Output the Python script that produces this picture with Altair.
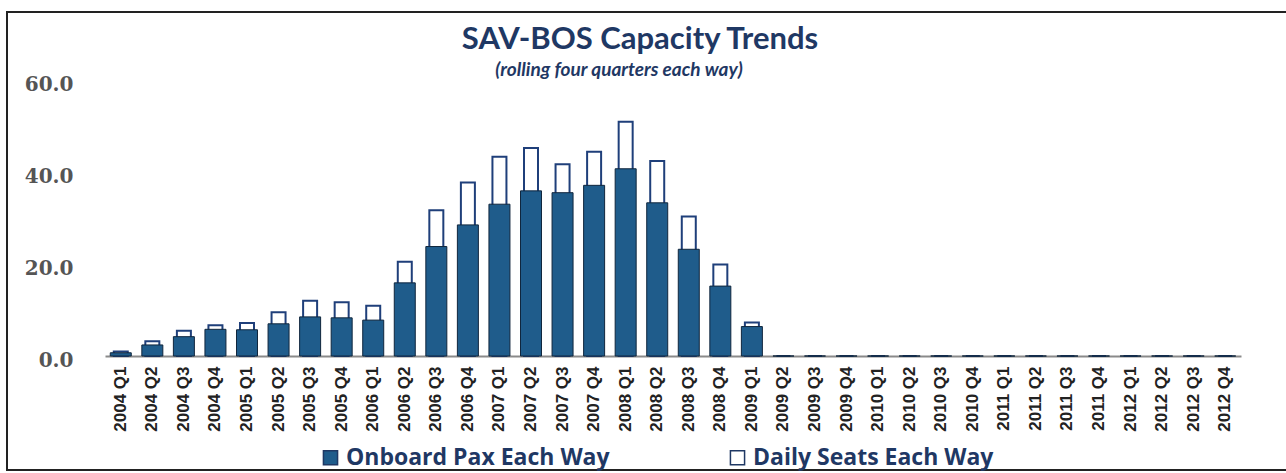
import altair as alt
import pandas as pd

quarters = [f"{y} Q{q}" for y in range(2004, 2013) for q in range(1, 5)]

pax = [0.7, 2.4, 4.2, 5.8, 5.7, 7.0, 8.5, 8.3, 7.8, 15.9, 23.8, 28.5,
       33.0, 35.9, 35.5, 37.1, 40.7, 33.3, 23.2, 15.2, 6.4,
       0, 0, 0, 0, 0, 0, 0, 0, 0, 0, 0, 0, 0, 0, 0]
seats = [1.0, 3.2, 5.5, 6.7, 7.2, 9.5, 12.0, 11.7, 10.9, 20.5, 31.7, 37.7,
         43.3, 45.2, 41.7, 44.4, 50.9, 42.4, 30.3, 19.9, 7.3,
         0, 0, 0, 0, 0, 0, 0, 0, 0, 0, 0, 0, 0, 0, 0]

PAX = "Onboard Pax Each Way"
SEATS = "Daily Seats Each Way"
TITLE = "SAV-BOS Capacity Trends"
SUBTITLE = "(rolling four quarters each way)"

df = pd.DataFrame({
    "quarter": quarters * 2,
    "value": pax + seats,
    "series": [PAX] * len(quarters) + [SEATS] * len(quarters),
})

NAVY = "#1F3864"
BLUE = "#1F5C8B"

x_enc = alt.X("quarter:N", sort=quarters, title=None,
              scale=alt.Scale(paddingInner=0, paddingOuter=0),
              axis=alt.Axis(labelAngle=-90, ticks=False, domainColor="#8a8a8a",
                            domainWidth=2, labelPadding=10,
                            labelFont="Liberation Sans", labelFontWeight="bold",
                            labelFontSize=17, labelColor="#222222"))
y_enc = alt.Y("value:Q", title=None,
              scale=alt.Scale(domain=[0, 60], nice=False),
              axis=alt.Axis(values=[0, 20, 40, 60], format=".1f", grid=False,
                            domain=False, ticks=False, labelPadding=32,
                            labelOffset=4,
                            labelFont="DejaVu Serif", labelFontWeight="bold",
                            labelFontSize=20, labelColor="#555555"))
fill_enc = alt.Fill("series:N",
                    scale=alt.Scale(domain=[PAX, SEATS], range=[BLUE, "#FFFFFF"]),
                    legend=alt.Legend(title=None, orient="none", legendX=214,
                                      legendY=366, direction="horizontal",
                                      symbolType="square", symbolSize=200,
                                      symbolStrokeColor=NAVY, symbolStrokeWidth=1.5,
                                      labelFont="Open Sans", labelFontWeight="bold",
                                      labelFontSize=23, labelColor=NAVY,
                                      labelLimit=400, labelOffset=4,
                                      columnPadding=116))

base = alt.Chart(df)

seat_bars = base.transform_filter(alt.datum.series == SEATS).mark_bar(
    size=14, stroke="#1F3F7A", strokeWidth=2
).encode(x=x_enc, y=y_enc, fill=fill_enc)

pax_bars = base.transform_filter(alt.datum.series == PAX).mark_bar(
    size=21, stroke="#10263d", strokeWidth=1
).encode(x=x_enc, y=y_enc, fill=fill_enc)

one = pd.DataFrame({"a": [0]})

frame = alt.Chart(one).mark_rect(
    fill="transparent", stroke="#222222", strokeWidth=2
).encode(x=alt.value(-98), x2=alt.value(1185), y=alt.value(-68), y2=alt.value(390))

title_txt = alt.Chart(one).mark_text(
    text=TITLE, font="Lato", fontSize=31, fontWeight="bold", color=NAVY,
    align="center", baseline="middle"
).encode(x=alt.value(535), y=alt.value(-40))

subtitle_txt = alt.Chart(one).mark_text(
    text=SUBTITLE, font="Lato", fontSize=19, fontWeight="bold", fontStyle="italic",
    color=NAVY, align="center", baseline="middle"
).encode(x=alt.value(514), y=alt.value(-10))

chart = alt.layer(seat_bars, pax_bars, frame, title_txt, subtitle_txt).properties(
    width=1136, height=276,
    background="white",
    autosize=alt.AutoSizeParams(type="none"),
    padding={"left": 105, "top": 80, "right": 45, "bottom": 117},
).configure_view(strokeWidth=0, stroke="transparent")

chart.save("out.html", embed_options={"renderer": "svg", "actions": False})
